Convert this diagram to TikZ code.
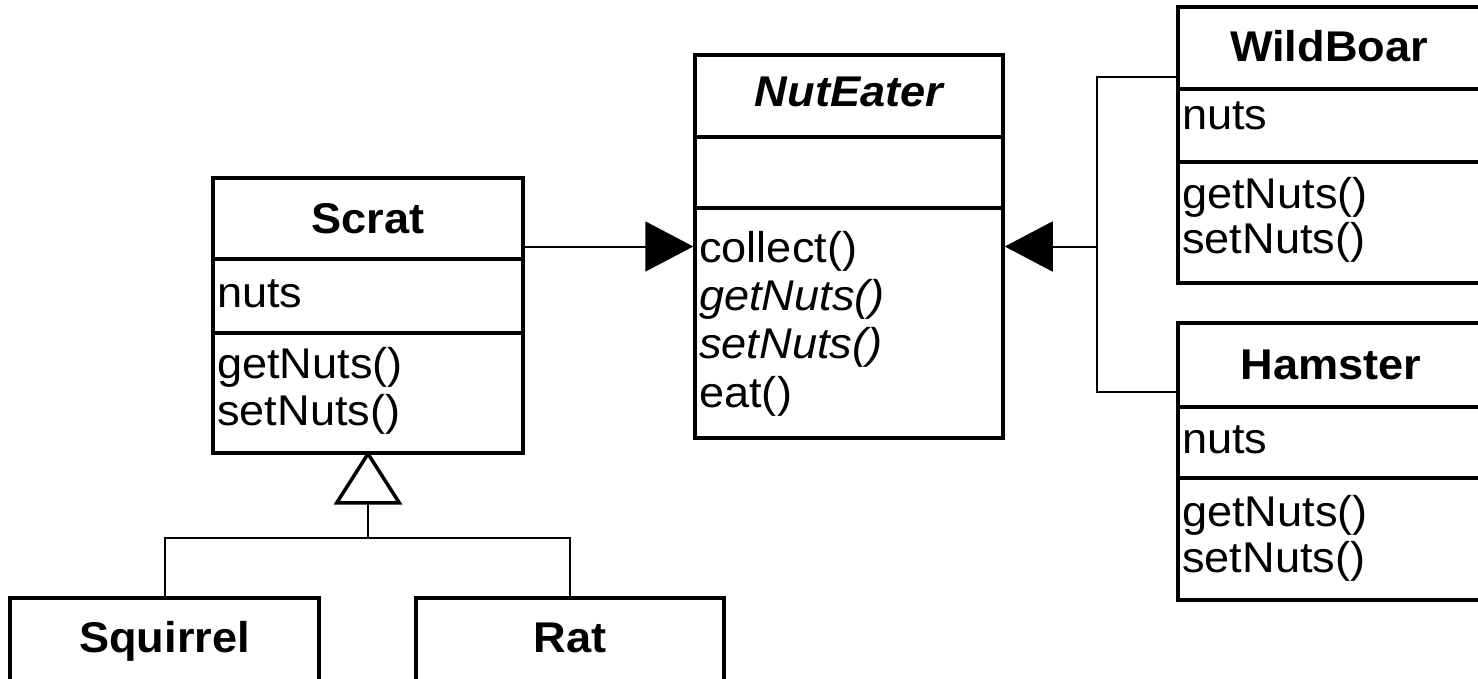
\documentclass[tikz,border=0pt]{standalone}
\usepackage{fontspec}
\setmainfont[FakeStretch=1.05]{Liberation Sans}
\usetikzlibrary{arrows.meta}
\begin{document}
\begin{tikzpicture}[x=1bp,y=-1bp,
  classbox/.style={draw, line width=3.5bp, inner sep=0pt, outer sep=0pt},
  sep/.style={line width=3.5bp},
  member/.style={anchor=base west, inner sep=0pt, font=\fontsize{43bp}{47bp}\selectfont},
  title/.style={anchor=base, inner sep=0pt, font=\fontsize{43bp}{47bp}\selectfont\bfseries},
  link/.style={line width=2bp},
  realize/.style={link, -{Triangle[length=48bp, width=50bp]}, shorten >=1.75bp},
  inherit/.style={link, -{Triangle[open, fill=white, length=54bp, width=68bp, line width=3.5bp]}, shorten >=-2.5bp}]
\useasboundingbox (0,0) rectangle (1478,679);
\clip (0,0) rectangle (1478,679);

% class boxes
\node[classbox, minimum width=310bp, minimum height=275bp] (scrat) at (368,315.5) {};
\node[classbox, minimum width=308bp, minimum height=383bp] (nuteater) at (849,246.5) {};
\node[classbox, minimum width=306bp, minimum height=276bp] (wildboar) at (1331,145) {};
\node[classbox, minimum width=306bp, minimum height=277bp] (hamster) at (1331,461.5) {};
\node[classbox, minimum width=309bp, minimum height=83bp] (squirrel) at (164.5,639.5) {};
\node[classbox, minimum width=308bp, minimum height=83bp] (rat) at (570,639.5) {};

% compartment separators
\draw[sep] ([yshift=-81bp]scrat.north west) -- ([yshift=-81bp]scrat.north east);
\draw[sep] ([yshift=-155bp]scrat.north west) -- ([yshift=-155bp]scrat.north east);
\draw[sep] ([yshift=-82bp]nuteater.north west) -- ([yshift=-82bp]nuteater.north east);
\draw[sep] ([yshift=-153bp]nuteater.north west) -- ([yshift=-153bp]nuteater.north east);
\draw[sep] ([yshift=-82bp]wildboar.north west) -- ([yshift=-82bp]wildboar.north east);
\draw[sep] ([yshift=-155bp]wildboar.north west) -- ([yshift=-155bp]wildboar.north east);
\draw[sep] ([yshift=-84bp]hamster.north west) -- ([yshift=-84bp]hamster.north east);
\draw[sep] ([yshift=-155bp]hamster.north west) -- ([yshift=-155bp]hamster.north east);

% Scrat
\node[title] (scrat-name) at (368,233) {Scrat};
\node[member] (scrat-a1) at (217,307) {nuts};
\node[member] (scrat-m1) at (217,378) {getNuts()};
\node[member] (scrat-m2) at (217,425) {setNuts()};

% NutEater (abstract)
\node[title, font=\fontsize{43bp}{47bp}\selectfont\bfseries\itshape] (nuteater-name) at (849,107) {NutEater};
\node[member] (nuteater-m1) at (699,262) {collect()};
\node[member, font=\fontsize{43bp}{47bp}\selectfont\itshape] (nuteater-m2) at (699,310) {getNuts()};
\node[member, font=\fontsize{43bp}{47bp}\selectfont\itshape] (nuteater-m3) at (699,358) {setNuts()};
\node[member] (nuteater-m4) at (699,407) {eat()};

% WildBoar
\node[title] (wildboar-name) at (1329,62) {WildBoar};
\node[member] (wildboar-a1) at (1182,130) {nuts};
\node[member] (wildboar-m1) at (1182,208) {getNuts()};
\node[member] (wildboar-m2) at (1182,253) {setNuts()};

% Hamster
\node[title] (hamster-name) at (1331,379) {Hamster};
\node[member] (hamster-a1) at (1182,453) {nuts};
\node[member] (hamster-m1) at (1182,526) {getNuts()};
\node[member] (hamster-m2) at (1182,572) {setNuts()};

% subclasses
\node[title] (squirrel-name) at (164.5,652) {Squirrel};
\node[title] (rat-name) at (570,652) {Rat};

% connectors
\draw[realize] (scrat.east |- nuteater.west) -- (nuteater.west);

\coordinate (bus) at (1097,246.5);
\draw[link] ([yshift=-70bp]wildboar.north west) -| (bus) |- ([yshift=-69bp]hamster.north west);
\draw[realize] (bus) -- (nuteater.east);

\coordinate (gen) at (368,538);
\draw[link] (squirrel.north) |- (gen) -| (rat.north);
\draw[inherit] (gen) -- (scrat.south);
\end{tikzpicture}
\end{document}
